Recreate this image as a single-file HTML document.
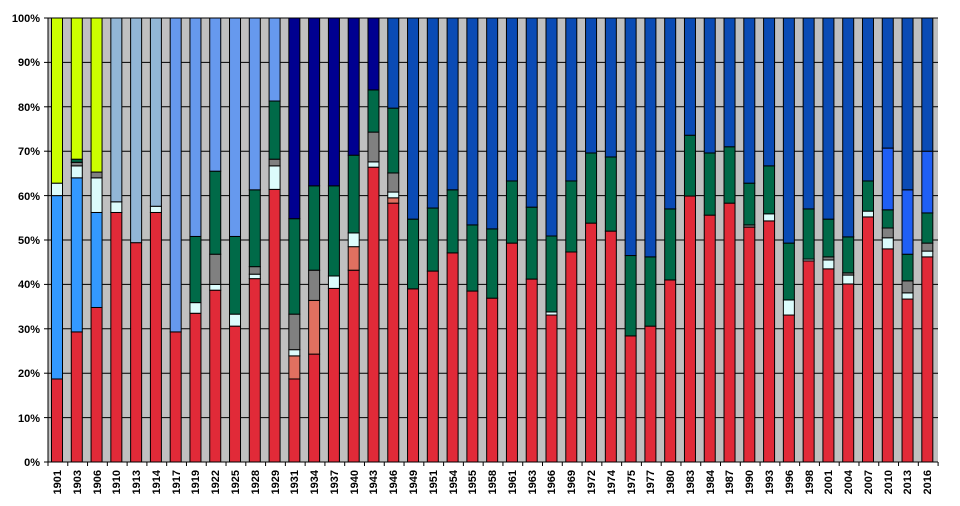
<!DOCTYPE html>
<html><head><meta charset="utf-8"><style>
html,body{margin:0;padding:0;background:#fff;width:960px;height:506px;overflow:hidden}
svg{display:block;font-family:"Liberation Sans",Arial,sans-serif;font-weight:bold;font-size:11px}
</style></head><body>
<svg id="s" width="960" height="506" viewBox="0 0 960 506" xmlns="http://www.w3.org/2000/svg">
<rect x="48" y="18" width="890" height="444" fill="#c0c0c0"/>
<g id="grid" stroke="#000" stroke-width="1"></g>
<g id="bars" stroke="#000" stroke-width="1"></g>
<line x1="48" y1="18" x2="48" y2="462" stroke="#000"/>
<line x1="48" y1="462" x2="938" y2="462" stroke="#000"/>
<g id="ticks" stroke="#000"></g>
<g text-anchor="end" fill="#000">
<text x="40" y="22">100%</text><text x="40" y="66">90%</text><text x="40" y="111">80%</text>
<text x="40" y="155">70%</text><text x="40" y="200">60%</text><text x="40" y="244">50%</text>
<text x="40" y="288">40%</text><text x="40" y="333">30%</text><text x="40" y="377">20%</text>
<text x="40" y="422">10%</text><text x="40" y="466">0%</text>
</g>
<g text-anchor="end" fill="#000">
<text transform="translate(61,470) rotate(-90)">1901</text>
<text transform="translate(81,470) rotate(-90)">1903</text>
<text transform="translate(101,470) rotate(-90)">1906</text>
<text transform="translate(120,470) rotate(-90)">1910</text>
<text transform="translate(140,470) rotate(-90)">1913</text>
<text transform="translate(160,470) rotate(-90)">1914</text>
<text transform="translate(180,470) rotate(-90)">1917</text>
<text transform="translate(199,470) rotate(-90)">1919</text>
<text transform="translate(219,470) rotate(-90)">1922</text>
<text transform="translate(239,470) rotate(-90)">1925</text>
<text transform="translate(259,470) rotate(-90)">1928</text>
<text transform="translate(279,470) rotate(-90)">1929</text>
<text transform="translate(298,470) rotate(-90)">1931</text>
<text transform="translate(318,470) rotate(-90)">1934</text>
<text transform="translate(338,470) rotate(-90)">1937</text>
<text transform="translate(358,470) rotate(-90)">1940</text>
<text transform="translate(377,470) rotate(-90)">1943</text>
<text transform="translate(397,470) rotate(-90)">1946</text>
<text transform="translate(417,470) rotate(-90)">1949</text>
<text transform="translate(437,470) rotate(-90)">1951</text>
<text transform="translate(457,470) rotate(-90)">1954</text>
<text transform="translate(476,470) rotate(-90)">1955</text>
<text transform="translate(496,470) rotate(-90)">1958</text>
<text transform="translate(516,470) rotate(-90)">1961</text>
<text transform="translate(536,470) rotate(-90)">1963</text>
<text transform="translate(555,470) rotate(-90)">1966</text>
<text transform="translate(575,470) rotate(-90)">1969</text>
<text transform="translate(595,470) rotate(-90)">1972</text>
<text transform="translate(615,470) rotate(-90)">1974</text>
<text transform="translate(635,470) rotate(-90)">1975</text>
<text transform="translate(654,470) rotate(-90)">1977</text>
<text transform="translate(674,470) rotate(-90)">1980</text>
<text transform="translate(694,470) rotate(-90)">1983</text>
<text transform="translate(714,470) rotate(-90)">1984</text>
<text transform="translate(733,470) rotate(-90)">1987</text>
<text transform="translate(753,470) rotate(-90)">1990</text>
<text transform="translate(773,470) rotate(-90)">1993</text>
<text transform="translate(793,470) rotate(-90)">1996</text>
<text transform="translate(813,470) rotate(-90)">1998</text>
<text transform="translate(832,470) rotate(-90)">2001</text>
<text transform="translate(852,470) rotate(-90)">2004</text>
<text transform="translate(872,470) rotate(-90)">2007</text>
<text transform="translate(892,470) rotate(-90)">2010</text>
<text transform="translate(911,470) rotate(-90)">2013</text>
<text transform="translate(931,470) rotate(-90)">2016</text>
</g>
</svg>
<script>
var C={R:"#e12a38",S:"#e07060",C:"#dcfcfc",G:"#808080",D:"#006a48",Y:"#ccff00",B1:"#3399ff",LB:"#92b6d6",CB:"#6699ee",N:"#000090",RB:"#0a4bb5",BB:"#1f5ff5"};
var data=[
[["R",18.7],["B1",60],["C",62.8],["Y",100]],
[["R",29.3],["B1",64],["C",66.7],["G",67.5],["D",68.2],["Y",100]],
[["R",34.8],["B1",56.2],["C",64],["G",65.3],["Y",100]],
[["R",56.2],["C",58.6],["LB",100]],
[["R",49.4],["LB",100]],
[["R",56.2],["C",57.6],["LB",100]],
[["R",29.3],["CB",100]],
[["R",33.5],["C",35.9],["D",50.8],["CB",100]],
[["R",38.7],["C",40],["G",46.8],["D",65.5],["CB",100]],
[["R",30.6],["C",33.3],["D",50.8],["CB",100]],
[["R",41.3],["C",42.3],["G",44],["D",61.3],["CB",100]],
[["R",61.4],["C",66.7],["G",68.2],["D",81.3],["CB",100]],
[["R",18.7],["S",23.9],["C",25.3],["G",33.3],["D",54.8],["N",100]],
[["R",24.3],["S",36.4],["G",43.2],["D",62.2],["N",100]],
[["R",39.1],["C",41.9],["D",62.2],["N",100]],
[["R",43.2],["S",48.5],["C",51.6],["D",69.1],["N",100]],
[["R",66.4],["C",67.6],["G",74.3],["D",83.8],["N",100]],
[["R",58.3],["S",59.5],["C",60.8],["G",65.1],["D",79.7],["RB",100]],
[["R",39],["D",54.7],["RB",100]],
[["R",43],["D",57.2],["RB",100]],
[["R",47.1],["D",61.3],["RB",100]],
[["R",38.5],["D",53.4],["RB",100]],
[["R",36.9],["D",52.5],["RB",100]],
[["R",49.3],["D",63.3],["RB",100]],
[["R",41.2],["D",57.4],["RB",100]],
[["R",33.1],["C",33.8],["D",50.9],["RB",100]],
[["R",47.3],["D",63.3],["RB",100]],
[["R",53.8],["D",69.6],["RB",100]],
[["R",52],["D",68.7],["RB",100]],
[["R",28.4],["D",46.5],["RB",100]],
[["R",30.6],["D",46.2],["RB",100]],
[["R",41],["D",57],["RB",100]],
[["R",59.9],["D",73.6],["RB",100]],
[["R",55.6],["D",69.6],["RB",100]],
[["R",58.3],["D",71],["RB",100]],
[["R",52.9],["G",53.4],["D",62.8],["RB",100]],
[["R",54.3],["C",55.9],["D",66.7],["RB",100]],
[["R",33.1],["C",36.5],["D",49.3],["RB",100]],
[["R",45.3],["C",45.7],["D",57],["RB",100]],
[["R",43.5],["C",45.5],["G",46.2],["D",54.7],["RB",100]],
[["R",40.1],["C",42.1],["G",42.6],["D",50.7],["RB",100]],
[["R",55.2],["C",56.5],["D",63.3],["RB",100]],
[["R",48],["C",50.5],["G",52.7],["D",56.8],["BB",70.7],["RB",100]],
[["R",36.7],["C",38.1],["G",40.8],["D",46.8],["BB",61.3],["RB",100]],
[["R",46.2],["C",47.5],["G",49.3],["D",56.1],["BB",70],["RB",100]]
];
var ns="http://www.w3.org/2000/svg";
function el(p,t,a){var e=document.createElementNS(ns,t);for(var k in a)e.setAttribute(k,a[k]);p.appendChild(e);}
var g=document.getElementById("grid");
for(var k=1;k<=10;k++){var y=462-44.4*k;el(g,"line",{x1:48,x2:938,y1:y,y2:y});}
var tk=document.getElementById("ticks");
for(var k=0;k<=10;k++){var y=462-44.4*k;el(tk,"line",{x1:44,x2:48,y1:y,y2:y});}
for(var i=0;i<=45;i++){var x=48+i*19.78;el(tk,"line",{x1:x,x2:x,y1:462,y2:466});}
var b=document.getElementById("bars");
data.forEach(function(d,i){var x=51.5+i*19.78,prev=0;d.forEach(function(s){var y1=462-4.44*s[1],y0=462-4.44*prev;el(b,"rect",{x:x,y:y1,width:11,height:y0-y1,fill:C[s[0]]});prev=s[1];});});
</script>
</body></html>
